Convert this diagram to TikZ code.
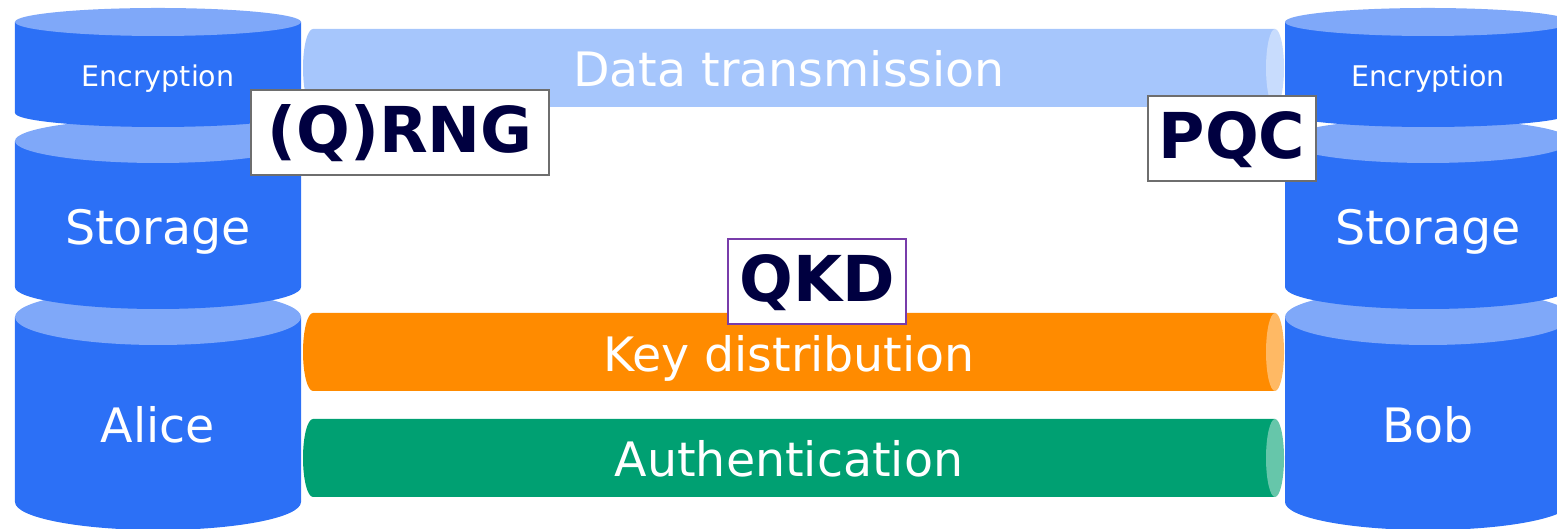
\documentclass[tikz,border=0pt]{standalone}
\usepackage{fontspec}
\setmainfont{DejaVu Sans}
\usepackage{tikz}

\definecolor{dbbody}{RGB}{44,112,246}
\definecolor{dbtop}{RGB}{127,168,249}
\definecolor{datapipe}{RGB}{166,198,252}
\definecolor{datacap}{RGB}{200,220,253}
\definecolor{keypipe}{RGB}{255,139,0}
\definecolor{keycap}{RGB}{255,185,100}
\definecolor{authpipe}{RGB}{0,160,114}
\definecolor{authcap}{RGB}{102,198,170}
\definecolor{labelink}{RGB}{0,0,64}
\definecolor{boxgray}{RGB}{110,110,110}
\definecolor{boxpurple}{RGB}{120,60,170}

\begin{document}
\begin{tikzpicture}[
    bigtext/.style={text=white, font=\fontsize{13.5}{16}\selectfont, anchor=base},
    smalltext/.style={text=white, font=\fontsize{8.1}{10}\selectfont, anchor=base},
    tagbox/.style={draw=boxgray, line width=0.6pt, fill=white, text=labelink,
      font=\fontsize{18}{20}\bfseries\selectfont, anchor=base,
      inner xsep=0.11cm, inner ysep=0pt, text height=0.63cm, text depth=0.22cm}]

  %% Page frame.
  \clip (0,0) rectangle (15.57,5.29);

  %% The lowest cylinders: Alice and Bob.
  \fill[dbbody] (0.15,2.12) -- (0.15,0.27)
  arc[start angle=180, end angle=360, x radius=1.43, y radius=0.28]
  -- (3.01,2.12) -- cycle;
  \fill[dbtop] (1.58,2.12) ellipse [x radius=1.43, y radius=0.28];
  \fill[dbbody] (12.85,2.12) -- (12.85,0.27)
  arc[start angle=180, end angle=360, x radius=1.43, y radius=0.28]
  -- (15.71,2.12) -- cycle;
  \fill[dbtop] (14.28,2.12) ellipse [x radius=1.43, y radius=0.28];

  %% The storage cylinders.
  \fill[dbbody] (0.15,3.88) -- (0.15,2.42)
  arc[start angle=180, end angle=360, x radius=1.43, y radius=0.22]
  -- (3.01,3.88) -- cycle;
  \fill[dbtop] (1.58,3.88) ellipse [x radius=1.43, y radius=0.22];
  \fill[dbbody] (12.85,3.88) -- (12.85,2.42)
  arc[start angle=180, end angle=360, x radius=1.43, y radius=0.22]
  -- (15.71,3.88) -- cycle;
  \fill[dbtop] (14.28,3.88) ellipse [x radius=1.43, y radius=0.22];

  %% The encryption cylinders.
  \fill[dbbody] (0.15,5.07) -- (0.15,4.16)
  arc[start angle=180, end angle=360, x radius=1.43, y radius=0.14]
  -- (3.01,5.07) -- cycle;
  \fill[dbtop] (1.58,5.07) ellipse [x radius=1.43, y radius=0.14];
  \fill[dbbody] (12.85,5.07) -- (12.85,4.16)
  arc[start angle=180, end angle=360, x radius=1.43, y radius=0.14]
  -- (15.71,5.07) -- cycle;
  \fill[dbtop] (14.28,5.07) ellipse [x radius=1.43, y radius=0.14];

  %% Cylinder labels.
  \node[smalltext] (encA) at (1.58,4.42) {Encryption};
  \node[smalltext] (encB) at (14.28,4.42) {Encryption};
  \node[bigtext] (stoA) at (1.58,2.84) {Storage};
  \node[bigtext] (stoB) at (14.28,2.84) {Storage};
  \node[bigtext] (alice) at (1.58,0.86) {Alice};
  \node[bigtext] (bob) at (14.28,0.86) {Bob};

  %% The pipes between them.
  \fill[datapipe] (12.75,5.00) -- (3.13,5.00)
  arc[start angle=90, end angle=270, x radius=0.10, y radius=0.39]
  -- (12.75,4.22) -- cycle;
  \fill[datacap] (12.75,4.61) ellipse [x radius=0.09, y radius=0.39];

  \fill[keypipe] (12.75,2.16) -- (3.13,2.16)
  arc[start angle=90, end angle=270, x radius=0.10, y radius=0.39]
  -- (12.75,1.38) -- cycle;
  \fill[keycap] (12.75,1.77) ellipse [x radius=0.09, y radius=0.39];

  \fill[authpipe] (12.75,1.10) -- (3.13,1.10)
  arc[start angle=90, end angle=270, x radius=0.10, y radius=0.39]
  -- (12.75,0.32) -- cycle;
  \fill[authcap] (12.75,0.71) ellipse [x radius=0.09, y radius=0.39];

  %% Pipe labels.
  \node[bigtext] (data) at (7.89,4.42) {Data transmission};
  \node[bigtext] (keydist) at (7.89,1.57) {Key distribution};
  \node[bigtext] (auth) at (7.89,0.52) {Authentication};

  %% The technology tags.
  \node[tagbox, minimum width=2.98cm] (rng) at (4.00,3.76) {(Q)RNG};
  \node[tagbox, minimum width=1.64cm] (pqc) at (12.32,3.70) {PQC};
  \node[tagbox, draw=boxpurple, minimum width=1.74cm] (qkd) at (8.17,2.27) {QKD};

\end{tikzpicture}
\end{document}
